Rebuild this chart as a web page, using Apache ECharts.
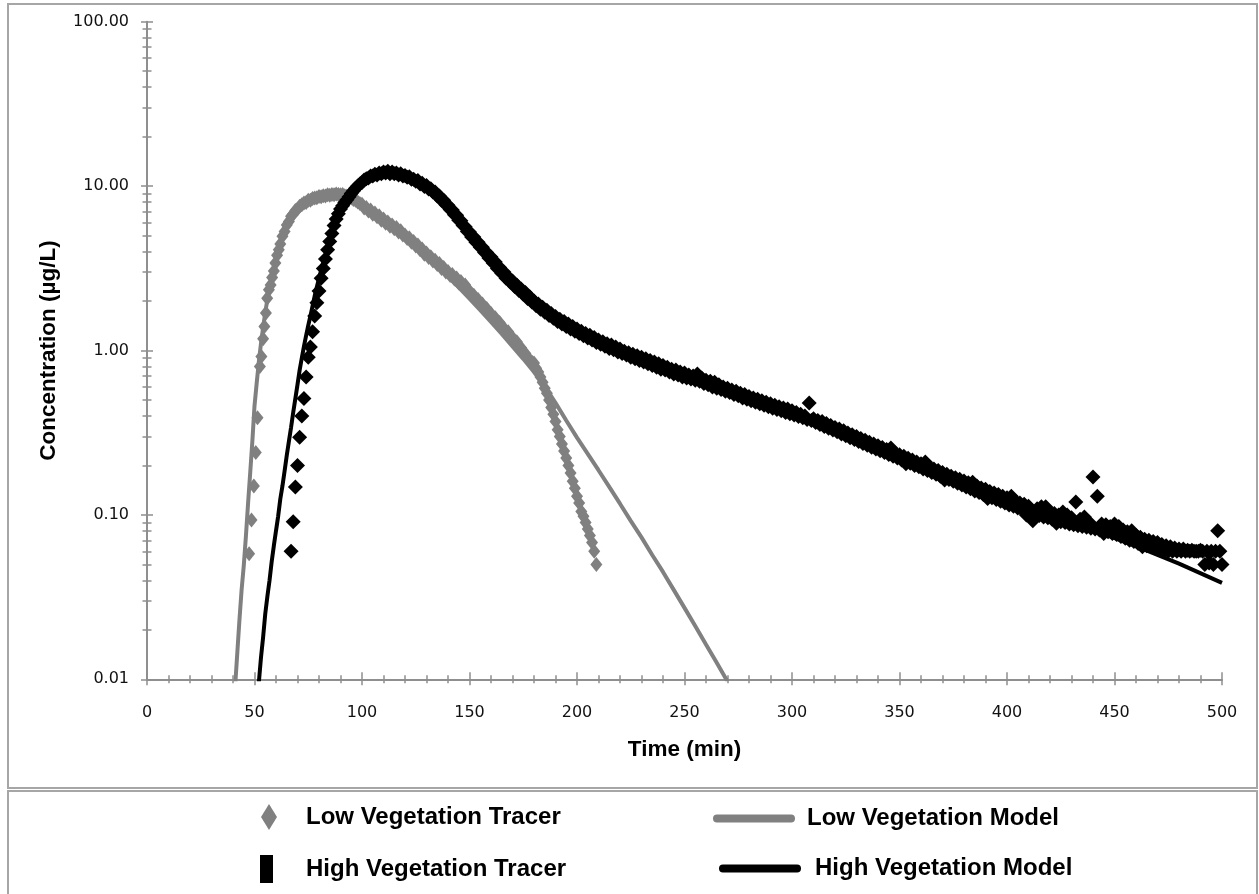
<!DOCTYPE html>
<html>
<head>
<meta charset="utf-8">
<title>Tracer concentration vs time</title>
<script src="https://cdn.jsdelivr.net/npm/echarts@6/dist/echarts.min.js"></script>
<style>
  html, body { margin: 0; padding: 0; background: #fff; }
  #chart { width: 1259px; height: 894px; }
</style>
</head>
<body>
<div id="chart"></div>
<script>
// ---- Measured data: [time (min), concentration (µg/L)] ----
const lowTracerData = [
  [47.5, 0.058], [48.6, 0.093], [49.7, 0.15], [50.6, 0.24], [51.4, 0.39], [52.5, 0.80], [53.2, 0.92], [54.0, 1.18],
  [54.6, 1.40], [55.3, 1.69], [55.9, 2.08], [56.7, 2.34], [57.5, 2.50], [58.2, 2.78], [59.0, 3.05], [59.7, 3.40],
  [60.5, 3.80], [61.3, 4.10], [62, 4.45], [63, 4.95], [64, 5.30], [65, 5.80], [66, 6.10], [67, 6.55], [68, 6.75],
  [69, 7.10], [70, 7.25], [71, 7.55], [72, 7.70], [73, 7.90], [74, 7.95], [75, 8.20], [76, 8.20], [77, 8.40],
  [78, 8.45], [79, 8.50], [80, 8.65], [81, 8.60], [82, 8.75], [83, 8.70], [84, 8.85], [85, 8.80], [86, 8.90],
  [87, 8.85], [88, 8.95], [89, 8.90], [90, 8.85], [91, 8.90], [92, 8.75], [93, 8.70], [94, 8.55], [95, 8.45],
  [96, 8.30], [97, 8.20], [98, 8.00], [99, 7.85],
  [100, 7.75], [101, 7.35], [102, 7.40], [103, 7.05], [104, 7.15], [105, 6.75], [106, 6.85], [107, 6.50], [108, 6.60], [109, 6.20],
  [110, 6.30], [111, 5.95], [112, 6.05], [113, 5.70], [114, 5.80], [115, 5.50], [116, 5.60], [117, 5.25], [118, 5.35], [119, 5.05],
  [120, 5.05], [121, 4.80], [122, 4.85], [123, 4.55], [124, 4.60], [125, 4.32], [126, 4.38], [127, 4.10], [128, 4.15], [129, 3.85],
  [130, 3.92], [131, 3.68], [132, 3.72], [133, 3.50], [134, 3.54], [135, 3.33], [136, 3.38], [137, 3.15], [138, 3.20], [139, 3.00],
  [140, 3.02], [141, 2.86], [142, 2.90], [143, 2.72], [144, 2.76], [145, 2.57], [146, 2.63], [147, 2.45], [148, 2.50], [149, 2.33],
  [150, 2.30], [151, 2.20], [152, 2.17], [153, 2.07], [154, 2.04], [155, 1.94], [156, 1.92], [157, 1.82], [158, 1.80], [159, 1.70],
  [160, 1.68], [161, 1.58], [162, 1.58], [163, 1.47], [164, 1.48], [165, 1.37], [166, 1.37], [167, 1.28], [168, 1.30], [169, 1.20],
  [170, 1.20], [171, 1.12], [172, 1.13], [173, 1.05], [174, 1.04], [175, 0.98], [176, 0.96], [177, 0.90], [178, 0.88], [179, 0.85],
  [180, 0.84], [181, 0.78], [182, 0.74], [183, 0.69], [184, 0.64], [185, 0.59], [186, 0.55], [187, 0.50], [188, 0.45], [189, 0.41],
  [190, 0.37], [191, 0.33], [192, 0.30], [193, 0.27], [194, 0.245], [195, 0.222], [196, 0.20], [197, 0.18], [198, 0.16], [199, 0.145],
  [200, 0.13], [201, 0.118], [202, 0.105], [203, 0.098], [204, 0.090], [205, 0.082], [206, 0.075], [207, 0.068], [208, 0.060], [209, 0.050]
];

const lowModelData = [
  [41, 0.0091], [42, 0.0145], [43, 0.023], [44, 0.035], [45, 0.049], [46, 0.074], [47, 0.117], [48, 0.18], [49, 0.28],
  [50, 0.46], [51, 0.63], [52, 0.85], [53, 1.10], [54, 1.38], [55, 1.70], [56, 2.05], [58, 2.80], [60, 3.60], [62, 4.40],
  [65, 5.50], [68, 6.50], [71, 7.30], [75, 8.05], [80, 8.60], [85, 8.85], [90, 8.85], [95, 8.50], [100, 7.75], [105, 7.00],
  [110, 6.25], [115, 5.55], [120, 4.90], [125, 4.30], [130, 3.75], [135, 3.25], [140, 2.82], [145, 2.42], [150, 2.07],
  [155, 1.76], [160, 1.49], [165, 1.26], [170, 1.06], [175, 0.89], [180, 0.74], [185, 0.605], [190, 0.48], [195, 0.375],
  [200, 0.295], [205, 0.235], [210, 0.187], [215, 0.148], [220, 0.117], [225, 0.092], [230, 0.073], [235, 0.057],
  [240, 0.045], [245, 0.035], [250, 0.0272], [255, 0.0211], [260, 0.0163], [265, 0.0126], [270, 0.0097]
];

const highTracerData = [
  [67, 0.060], [68, 0.091], [69, 0.148], [70, 0.200], [71, 0.297], [72, 0.40], [73, 0.51], [74, 0.69], [75, 0.91], [76, 1.05],
  [77, 1.30], [78, 1.62], [79, 1.95], [80, 2.30], [81, 2.75], [82, 3.15], [83, 3.60], [84, 4.10], [85, 4.60], [86, 5.15],
  [87, 5.75], [88, 6.30], [89, 6.80], [90, 7.25], [91, 7.60], [92, 7.95], [93, 8.25], [94, 8.60], [95, 9.00], [96, 9.35],
  [97, 9.70], [98, 10.0], [99, 10.3],
  [100, 10.5], [101, 10.9], [102, 11.1], [103, 11.2], [104, 11.5], [105, 11.5], [106, 11.8], [107, 11.7], [108, 12.0], [109, 11.9],
  [110, 12.2], [111, 12.0], [112, 12.3], [113, 11.9], [114, 12.2], [115, 11.9], [116, 12.0], [117, 11.7], [118, 11.9], [119, 11.5],
  [120, 11.6], [121, 11.3], [122, 11.4], [123, 11.0], [124, 11.0], [125, 10.7], [126, 10.8], [127, 10.3], [128, 10.4], [129, 9.95],
  [130, 10.1], [131, 9.60], [132, 9.65], [133, 9.20], [134, 9.20], [135, 8.70], [136, 8.70], [137, 8.20], [138, 8.20], [139, 7.70],
  [140, 7.65], [141, 7.20], [142, 7.15], [143, 6.70], [144, 6.65], [145, 6.20], [146, 6.15], [147, 5.75], [148, 5.65], [149, 5.30],
  [150, 5.25], [151, 4.90], [152, 4.90], [153, 4.55], [154, 4.55], [155, 4.25], [156, 4.25], [157, 3.95], [158, 3.95], [159, 3.65],
  [160, 3.70], [161, 3.40], [162, 3.45], [163, 3.15], [164, 3.20], [165, 2.95], [166, 3.00], [167, 2.75], [168, 2.80], [169, 2.60],
  [170, 2.65], [171, 2.45], [172, 2.50], [173, 2.32], [174, 2.37], [175, 2.20], [176, 2.25], [177, 2.07], [178, 2.12], [179, 1.97],
  [180, 2.00], [181, 1.87], [182, 1.92], [183, 1.78], [184, 1.83], [185, 1.71], [186, 1.76], [187, 1.63], [188, 1.68], [189, 1.57],
  [190, 1.61], [191, 1.50], [192, 1.55], [193, 1.45], [194, 1.50], [195, 1.40], [196, 1.45], [197, 1.35], [198, 1.40], [199, 1.31],
  [200, 1.35], [201, 1.27], [202, 1.31], [203, 1.23], [204, 1.27], [205, 1.19], [206, 1.24], [207, 1.16], [208, 1.20], [209, 1.12],
  [210, 1.16], [211, 1.09], [212, 1.13], [213, 1.06], [214, 1.10], [215, 1.03], [216, 1.08], [217, 1.01], [218, 1.05], [219, 0.98],
  [220, 1.02], [221, 0.96], [222, 0.99], [223, 0.94], [224, 0.97], [225, 0.91], [226, 0.95], [227, 0.89], [228, 0.93], [229, 0.87],
  [230, 0.91], [231, 0.85], [232, 0.89], [233, 0.83], [234, 0.87], [235, 0.81], [236, 0.85], [237, 0.79], [238, 0.83], [239, 0.77],
  [240, 0.81], [241, 0.76], [242, 0.79], [243, 0.74], [244, 0.77], [245, 0.72], [246, 0.76], [247, 0.71], [248, 0.74], [249, 0.69],
  [250, 0.73], [251, 0.68], [252, 0.71], [253, 0.67], [254, 0.70], [255, 0.66], [256, 0.72], [257, 0.65], [258, 0.68], [259, 0.63],
  [260, 0.66], [261, 0.62], [262, 0.65], [263, 0.60], [264, 0.64], [265, 0.59], [266, 0.62], [267, 0.58], [268, 0.60], [269, 0.565],
  [270, 0.59], [271, 0.555], [272, 0.575], [273, 0.54], [274, 0.565], [275, 0.53], [276, 0.55], [277, 0.515], [278, 0.54], [279, 0.505],
  [280, 0.525], [281, 0.495], [282, 0.515], [283, 0.485], [284, 0.505], [285, 0.475], [286, 0.495], [287, 0.465], [288, 0.485], [289, 0.455],
  [290, 0.475], [291, 0.445], [292, 0.465], [293, 0.437], [294, 0.455], [295, 0.43], [296, 0.447], [297, 0.42], [298, 0.44], [299, 0.413],
  [300, 0.43], [301, 0.405], [302, 0.42], [303, 0.397], [304, 0.41], [305, 0.39], [306, 0.40], [307, 0.38], [308, 0.48], [309, 0.375],
  [310, 0.385], [311, 0.365], [312, 0.375], [313, 0.355], [314, 0.37], [315, 0.345], [316, 0.36], [317, 0.337], [318, 0.35], [319, 0.328],
  [320, 0.34], [321, 0.32], [322, 0.333], [323, 0.31], [324, 0.325], [325, 0.303], [326, 0.315], [327, 0.295], [328, 0.307], [329, 0.287],
  [330, 0.30], [331, 0.28], [332, 0.292], [333, 0.272], [334, 0.284], [335, 0.265], [336, 0.277], [337, 0.258], [338, 0.27], [339, 0.252],
  [340, 0.263], [341, 0.246], [342, 0.257], [343, 0.24], [344, 0.25], [345, 0.233], [346, 0.255], [347, 0.227], [348, 0.238], [349, 0.222],
  [350, 0.232], [351, 0.216], [352, 0.227], [353, 0.205], [354, 0.221], [355, 0.206], [356, 0.216], [357, 0.20], [358, 0.21], [359, 0.196],
  [360, 0.205], [361, 0.19], [362, 0.21], [363, 0.186], [364, 0.196], [365, 0.181], [366, 0.19], [367, 0.177], [368, 0.186], [369, 0.172],
  [370, 0.181], [371, 0.163], [372, 0.177], [373, 0.164], [374, 0.172], [375, 0.16], [376, 0.168], [377, 0.156], [378, 0.165], [379, 0.152],
  [380, 0.161], [381, 0.148], [382, 0.157], [383, 0.144], [384, 0.158], [385, 0.14], [386, 0.15], [387, 0.137], [388, 0.146], [389, 0.133],
  [390, 0.143], [391, 0.126], [392, 0.139], [393, 0.127], [394, 0.136], [395, 0.124], [396, 0.133], [397, 0.121], [398, 0.13], [399, 0.118],
  [400, 0.127], [401, 0.115], [402, 0.13], [403, 0.113], [404, 0.121], [405, 0.11], [406, 0.118], [407, 0.108], [408, 0.116], [409, 0.10],
  [410, 0.113], [411, 0.103], [412, 0.092], [413, 0.101], [414, 0.109], [415, 0.099], [416, 0.112], [417, 0.097], [418, 0.112], [419, 0.096],
  [420, 0.104], [421, 0.094], [422, 0.102], [423, 0.089], [424, 0.10], [425, 0.091], [426, 0.104], [427, 0.09], [428, 0.10], [429, 0.088],
  [430, 0.096], [431, 0.087], [432, 0.12], [433, 0.086], [434, 0.094], [435, 0.085], [436, 0.097], [437, 0.084], [438, 0.091], [439, 0.083],
  [440, 0.17], [441, 0.082], [442, 0.13], [443, 0.081], [444, 0.088], [445, 0.077], [446, 0.087], [447, 0.079], [448, 0.085], [449, 0.077],
  [450, 0.088], [451, 0.076], [452, 0.085], [453, 0.074], [454, 0.081], [455, 0.072], [456, 0.079], [457, 0.07], [458, 0.08], [459, 0.069],
  [460, 0.075], [461, 0.067], [462, 0.073], [463, 0.064], [464, 0.071], [465, 0.065], [466, 0.07], [467, 0.064], [468, 0.069], [469, 0.063],
  [470, 0.068], [471, 0.062], [472, 0.066], [473, 0.061], [474, 0.065], [475, 0.06], [476, 0.064], [477, 0.06], [478, 0.063], [479, 0.06],
  [480, 0.062], [481, 0.06], [482, 0.062], [483, 0.06], [484, 0.061], [485, 0.06], [486, 0.061], [487, 0.06], [488, 0.06], [489, 0.06],
  [490, 0.061], [491, 0.06], [492, 0.05], [493, 0.06], [494, 0.051], [495, 0.06], [496, 0.05], [497, 0.06], [498, 0.08], [499, 0.06],
  [500, 0.05]
];

const highModelData = [
  [52, 0.0095], [53, 0.0135], [54, 0.018], [55, 0.025], [56, 0.032], [57, 0.040], [58, 0.052], [59, 0.065], [60, 0.080],
  [61, 0.098], [62, 0.125], [63, 0.150], [64, 0.185], [65, 0.23], [66, 0.28], [67, 0.34], [68, 0.42], [69, 0.51], [70, 0.62],
  [71, 0.76], [72, 0.90], [73, 1.06], [74, 1.23], [75, 1.42], [76, 1.62], [78, 2.15], [80, 2.75], [82, 3.45], [84, 4.25],
  [86, 5.10], [88, 5.95], [90, 6.85], [92, 7.70], [95, 8.85], [100, 10.3], [105, 11.3], [110, 11.9], [115, 12.0], [120, 11.6],
  [125, 10.9], [130, 10.0], [135, 8.85], [140, 7.55], [145, 6.30], [150, 5.20], [155, 4.30], [160, 3.55], [165, 3.00],
  [170, 2.57], [175, 2.22], [180, 1.95], [185, 1.74], [190, 1.57], [195, 1.44], [200, 1.33], [210, 1.14], [220, 1.00],
  [230, 0.89], [240, 0.785], [250, 0.70], [260, 0.635], [270, 0.57], [280, 0.505], [290, 0.455], [300, 0.415], [320, 0.33],
  [340, 0.255], [360, 0.195], [380, 0.152], [400, 0.120], [420, 0.098], [440, 0.081], [460, 0.0645], [480, 0.0505], [500, 0.0386]
];

// ---- Axis tick values ----
const xTickStep = 50;
const yDecadeTicks = [0.01, 0.1, 1, 10, 100];
const yMinorTicks = [
  0.02, 0.03, 0.04, 0.05, 0.06, 0.07, 0.08, 0.09,
  0.2, 0.3, 0.4, 0.5, 0.6, 0.7, 0.8, 0.9,
  2, 3, 4, 5, 6, 7, 8, 9,
  20, 30, 40, 50, 60, 70, 80, 90
];

const seriesNames = ['Low Vegetation Tracer', 'Low Vegetation Model', 'High Vegetation Tracer', 'High Vegetation Model'];
const GRAY = '#808080';
const AXIS_GRAY = '#8f8f8f';

const tickFont = { fontFamily: 'DejaVu Sans', fontSize: 16, color: '#111' };
const titleFont = { fontFamily: 'Liberation Sans', fontWeight: 'bold', fontSize: 22.5, color: '#000' };

function xAxisDef(inside) {
  return {
    type: 'value', min: 0, max: 500, interval: xTickStep, position: 'bottom',
    gridIndex: 0,
    axisLine: { show: inside, onZero: false, lineStyle: { color: AXIS_GRAY, width: 2 } },
    axisTick: { show: true, inside: inside, length: inside ? 7 : 6, lineStyle: { color: AXIS_GRAY, width: 1.5 } },
    minorTick: { show: true, splitNumber: 5, length: 4, lineStyle: { color: AXIS_GRAY, width: 1.5 } },
    axisLabel: Object.assign({ show: inside, margin: 26 }, tickFont),
    splitLine: { show: false },
    name: inside ? 'Time (min)' : '',
    nameLocation: 'middle',
    nameGap: 59,
    nameTextStyle: titleFont
  };
}

function yAxisDef(opts) {
  return {
    type: 'log', logBase: 10, min: 0.01, max: 100, position: 'left', gridIndex: 0,
    axisLine: { show: !!opts.line, onZero: false, lineStyle: { color: AXIS_GRAY, width: 2 } },
    axisTick: { show: true, inside: opts.inside, length: opts.len, customValues: opts.ticks,
                lineStyle: { color: AXIS_GRAY, width: 1.5 } },
    axisLabel: Object.assign({
      show: !!opts.labels, margin: 18, customValues: yDecadeTicks,
      formatter: v => Number(v).toFixed(2)
    }, tickFont),
    splitLine: { show: false },
    name: opts.labels ? 'Concentration (µg/L)' : '',
    nameLocation: 'middle',
    nameGap: 87,
    nameRotate: 90,
    nameTextStyle: titleFont
  };
}

const legendFont = { fontFamily: 'Liberation Sans', fontWeight: 'bold', fontSize: 24, color: '#000' };

function legendDef(name, icon, color, left, centerY, w, h, textGap) {
  const boxH = Math.max(h, 25);
  return {
    show: true, selectedMode: false, orient: 'horizontal',
    left: left, top: centerY - boxH / 2, padding: 0,
    itemWidth: w, itemHeight: h,
    textStyle: Object.assign({ padding: [0, 0, 0, textGap] }, legendFont),
    data: [{ name: name, icon: icon, itemStyle: { color: color, borderWidth: 0 } }]
  };
}

const lineIcon = 'path://M4,0 L78,0 A4,4 0 0 1 78,8 L4,8 A4,4 0 0 1 4,0 Z';

const option = {
  animation: false,
  backgroundColor: '#ffffff',
  grid: { left: 147, right: 37, top: 21.7, bottom: 214.7, containLabel: false },
  xAxis: [xAxisDef(true), xAxisDef(false)],
  yAxis: [
    yAxisDef({ line: true, labels: true, inside: true, len: 6, ticks: yDecadeTicks }),
    yAxisDef({ inside: false, len: 6, ticks: yDecadeTicks }),
    yAxisDef({ inside: true, len: 4.5, ticks: yMinorTicks }),
    yAxisDef({ inside: false, len: 4.5, ticks: yMinorTicks })
  ],
  legend: [
    legendDef(seriesNames[0], 'diamond', GRAY, 261, 817, 16, 26, 24),
    legendDef(seriesNames[1], lineIcon, GRAY, 713, 819, 82, 8, 7),
    legendDef(seriesNames[2], 'rect', '#000', 260, 869, 13, 28, 28),
    legendDef(seriesNames[3], lineIcon, '#000', 719, 869, 82, 8, 9)
  ],
  graphic: [
    { type: 'rect', silent: true, z: -10,
      shape: { x: 8, y: 4, width: 1249, height: 784 },
      style: { fill: 'none', stroke: '#a6a6a6', lineWidth: 2 } },
    { type: 'rect', silent: true, z: -10,
      shape: { x: 8, y: 791, width: 1249, height: 120 },
      style: { fill: 'none', stroke: '#a6a6a6', lineWidth: 2 } }
  ],
  series: [
    {
      name: seriesNames[1], type: 'line', xAxisIndex: 0, yAxisIndex: 0,
      data: lowModelData,
      showSymbol: false, smooth: false, z: 2,
      lineStyle: { color: GRAY, width: 4 }, itemStyle: { color: GRAY }
    },
    {
      name: seriesNames[0], type: 'scatter', xAxisIndex: 0, yAxisIndex: 0,
      data: lowTracerData,
      symbol: 'diamond', symbolSize: [12, 15], z: 3,
      itemStyle: { color: GRAY, opacity: 1 }
    },
    {
      name: seriesNames[3], type: 'line', xAxisIndex: 0, yAxisIndex: 0,
      data: highModelData,
      showSymbol: false, smooth: false, z: 4,
      lineStyle: { color: '#000', width: 4 }, itemStyle: { color: '#000' }
    },
    {
      name: seriesNames[2], type: 'scatter', xAxisIndex: 0, yAxisIndex: 0,
      data: highTracerData,
      symbol: 'diamond', symbolSize: [15, 15], z: 5,
      itemStyle: { color: '#000', opacity: 1 }
    }
  ]
};

const chart = echarts.init(document.getElementById('chart'), null, { renderer: 'canvas' });
chart.setOption(option);
</script>
</body>
</html>
